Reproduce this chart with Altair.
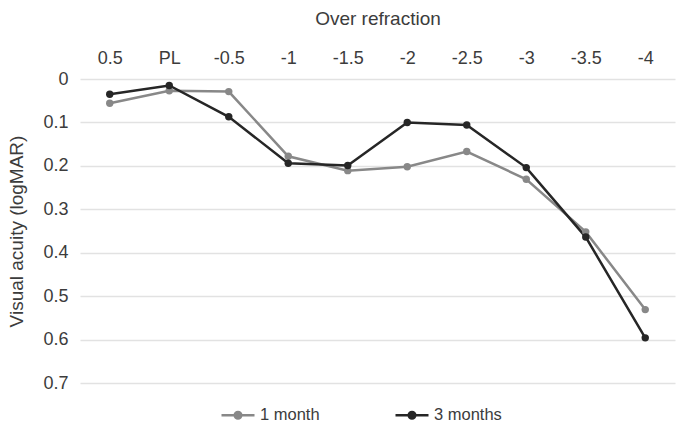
import altair as alt
import pandas as pd

# Over-refraction steps (dioptres) and mean visual acuity at each step
steps = ["0.5", "PL", "-0.5", "-1", "-1.5", "-2", "-2.5", "-3", "-3.5", "-4"]
one_month = [0.056, 0.027, 0.029, 0.178, 0.211, 0.202, 0.167, 0.231, 0.352, 0.531]
three_months = [0.035, 0.015, 0.087, 0.194, 0.199, 0.100, 0.106, 0.204, 0.364, 0.596]
series = ["1 month", "3 months"]
colors = ["#888888", "#262626"]
acuity_ticks = [0, 0.1, 0.2, 0.3, 0.4, 0.5, 0.6, 0.7]

rows = []
for name, vals in zip(series, [one_month, three_months]):
    for s, v in zip(steps, vals):
        rows.append({"step": s, "va": v, "visit": name})
df = pd.DataFrame(rows)

font = "Liberation Sans"
# legend glyph: a short line with a dot in the middle
line_dot = (
    "M-1,0H1"
    "M-0.2,0A0.2,0.2 0 1,0 0.2,0A0.2,0.2 0 1,0 -0.2,0"
    "M-0.08,0A0.08,0.08 0 1,0 0.08,0A0.08,0.08 0 1,0 -0.08,0"
)

chart = (
    alt.Chart(df)
    .mark_line(strokeWidth=2.5, point=alt.OverlayMarkDef(size=55, filled=True, opacity=1))
    .encode(
        x=alt.X(
            "step:N",
            sort=steps,
            scale=alt.Scale(type="point", padding=0.5),
            axis=alt.Axis(
                orient="top",
                title="Over refraction",
                labelAngle=0,
                domain=False,
                ticks=False,
                labelPadding=12,
                titlePadding=21,
            ),
        ),
        y=alt.Y(
            "va:Q",
            scale=alt.Scale(domain=[0, 0.7], reverse=True, nice=False),
            axis=alt.Axis(
                title="Visual acuity (logMAR)",
                values=acuity_ticks,
                domain=False,
                ticks=False,
                labelPadding=12,
                titlePadding=16,
                format="~g",
            ),
        ),
        color=alt.Color(
            "visit:N",
            scale=alt.Scale(domain=series, range=colors),
            legend=alt.Legend(
                title=None,
                orient="none",
                legendX=140,
                legendY=318,
                direction="horizontal",
                columnPadding=70,
                symbolType=line_dot,
                symbolSize=1089,
                symbolStrokeWidth=2.5,
                labelFontSize=16.5,
                labelOffset=4,
            ),
        ),
    )
    .properties(
        width=595,
        height=304,
        padding={"left": 80, "top": 79, "right": 1, "bottom": 43},
        autosize=alt.AutoSizeParams(type="none"),
        background="white",
    )
    .configure_view(stroke=None)
    .configure_axis(
        labelFont=font,
        titleFont=font,
        labelFontSize=18,
        titleFontSize=19,
        labelColor="#3c3c3c",
        titleColor="#3c3c3c",
        titleFontWeight="normal",
        gridColor="#e2e2e2",
        gridWidth=1.5,
    )
    .configure_legend(labelFont=font, labelColor="#3c3c3c")
)

chart.save("out.html", embed_options={"renderer": "svg", "actions": False})
